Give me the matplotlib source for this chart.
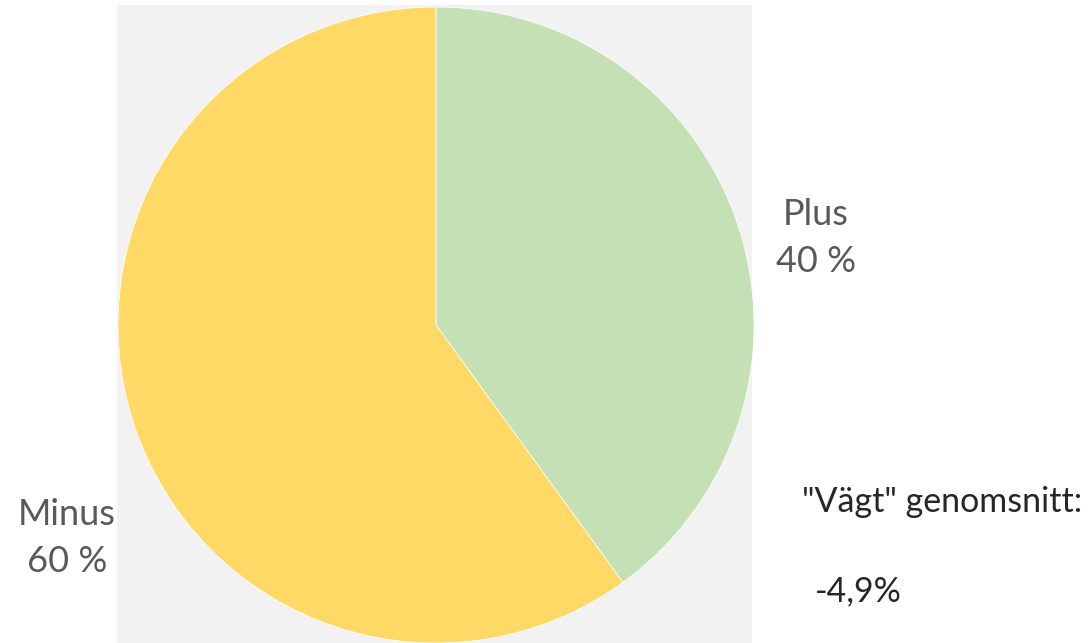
import matplotlib.pyplot as plt
from matplotlib.patches import Rectangle

labels = ["Plus", "Minus"]
shares = [40, 60]
colors = ["#C5E0B4", "#FFD966"]
average_label = '"Vägt" genomsnitt:'
average_value = "-4,9%"

W, H = 1092, 643
fig = plt.figure(figsize=(W / 100, H / 100), dpi=100)
ax = fig.add_axes([0, 0, 1, 1])

# grey plot area behind the pie
ax.add_patch(Rectangle((117, 0), 635, 638, facecolor="#F2F2F2", edgecolor="none", zorder=0))

ax.pie(
    shares,
    colors=colors,
    startangle=90,
    counterclock=False,
    center=(436, 318),
    radius=318,
    wedgeprops=dict(edgecolor="white", linewidth=0.5),
    frame=True,
)
ax.set_xlim(0, W)
ax.set_ylim(0, H)
ax.set_aspect("equal")
ax.axis("off")

font = "Lato"
label_color = "#595959"
ax.text(816, 405, f"{labels[0]}\n{shares[0]} %", ha="center", va="center",
        fontsize=26, color=label_color, family=font, linespacing=1.5)
ax.text(67, 105, f"{labels[1]}\n{shares[1]} %", ha="center", va="center",
        fontsize=26, color=label_color, family=font, linespacing=1.5)

ax.text(802, 141, average_label, ha="left", va="center", fontsize=24.5, color="#262626", family=font)
ax.text(815, 52, average_value, ha="left", va="center", fontsize=24.5, color="#262626", family=font)

fig.savefig("out.png", dpi=100)
